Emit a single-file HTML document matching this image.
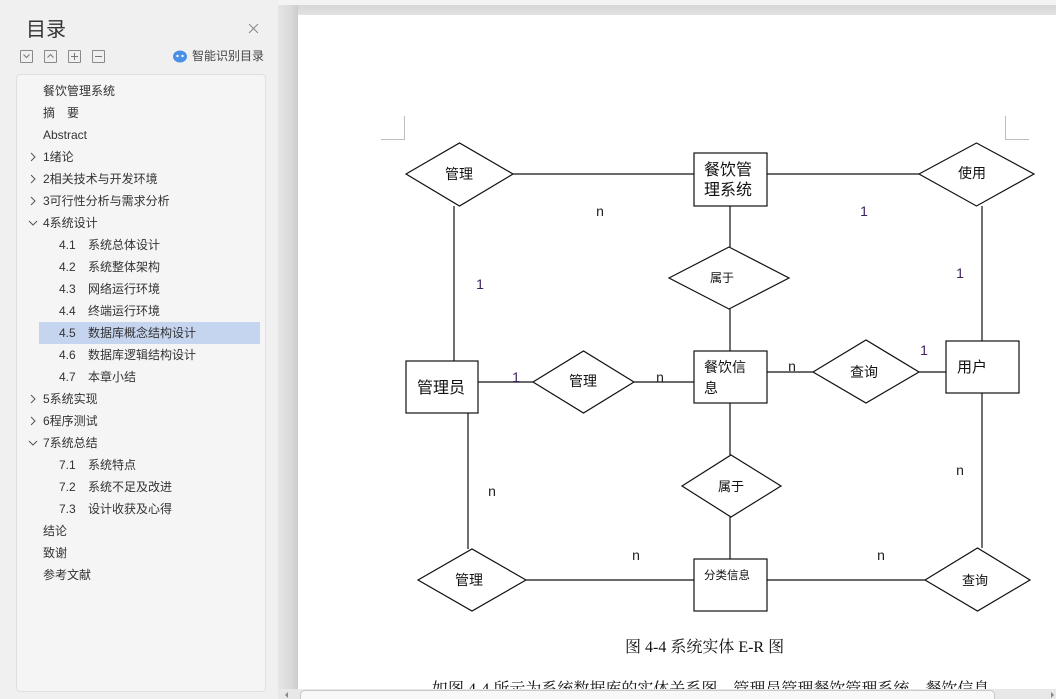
<!DOCTYPE html>
<html><head><meta charset="utf-8">
<style>
html,body{margin:0;padding:0;}
body{width:1056px;height:699px;position:relative;overflow:hidden;background:#efefef;font-family:"Liberation Sans","Noto Sans CJK SC",sans-serif;}
.abs{position:absolute;}
#side{left:0;top:0;width:278px;height:699px;background:#f0f0f0;}
#panel{left:16px;top:74px;width:250px;height:618px;background:#f5f5f5;border:1px solid #e0e0e0;border-radius:4px;box-sizing:border-box;}
.t{position:absolute;font-size:12px;color:#333;height:22px;line-height:22px;white-space:nowrap;}
.ib{position:absolute;top:50px;width:11px;height:11px;border:1px solid #8a8a8a;border-radius:1px;}
#hl{left:39px;top:322px;width:221px;height:22px;background:#c6d5ef;}
#gut{left:278px;top:5px;width:20px;height:694px;background:linear-gradient(to right,#e6e6e6,#d8d8d8 70%,#cccccc);}
#topband{left:278px;top:5px;width:778px;height:10px;background:linear-gradient(to bottom,#d6d6d6,#e2e2e2);}
#topstrip{left:278px;top:0;width:778px;height:5px;background:#f3f3f3;}
#page{left:298px;top:15px;width:758px;height:674px;background:#fff;}
#sb{left:278px;top:689px;width:778px;height:10px;background:#e8e8e8;}
#thumb{left:300px;top:690px;width:695px;height:9px;background:#f8f8f8;border:1px solid #c9c9c9;border-bottom:none;border-radius:5px 5px 0 0;box-sizing:border-box;}
</style></head><body>
<div id="side" class="abs"></div>
<div class="abs" style="left:26px;top:16px;font-size:20px;color:#333;line-height:28px;">目录</div>
<svg class="abs" style="left:247px;top:22px" width="14" height="14"><path d="M2 2 L11 11 M11 2 L2 11" stroke="#888" stroke-width="1"/></svg>
<div class="ib" style="left:20px"></div>
<div class="ib" style="left:44px"></div>
<div class="ib" style="left:68px"></div>
<div class="ib" style="left:92px"></div>
<svg class="abs" style="left:0;top:0" width="278" height="74">
<path d="M23.5 54.5 L26.5 57.5 L29.5 54.5" fill="none" stroke="#777"/>
<path d="M47.5 57.5 L50.5 54.5 L53.5 57.5" fill="none" stroke="#777"/>
<path d="M71 56.5 H78 M74.5 53 V60" stroke="#777"/>
<path d="M95 56.5 H102" stroke="#777"/>
<ellipse cx="180" cy="56.5" rx="7" ry="6" fill="#4a90e8"/>
<circle cx="177.5" cy="56" r="1.2" fill="#fff"/><circle cx="182.5" cy="56" r="1.2" fill="#fff"/>
</svg>
<div class="abs" style="left:192px;top:47px;font-size:12px;color:#444;line-height:18px;">智能识别目录</div>
<div id="panel" class="abs"></div>
<div id="hl" class="abs"></div>
<svg class="abs" style="left:0;top:0" width="278" height="699">
<g fill="none" stroke="#555" stroke-width="1">
<path d="M31 153 L35 157 L31 161"/>
<path d="M31 175 L35 179 L31 183"/>
<path d="M31 197 L35 201 L31 205"/>
<path d="M29 221 L33 225 L37 221"/>
<path d="M31 395 L35 399 L31 403"/>
<path d="M31 417 L35 421 L31 425"/>
<path d="M29 441 L33 445 L37 441"/>
</g>
</svg>
<div class="t" style="left:43px;top:80px">餐饮管理系统</div>
<div class="t" style="left:43px;top:102px">摘</div><div class="t" style="left:67px;top:102px">要</div>
<div class="t" style="left:43px;top:124px">Abstract</div>
<div class="t" style="left:43px;top:146px">1绪论</div>
<div class="t" style="left:43px;top:168px">2相关技术与开发环境</div>
<div class="t" style="left:43px;top:190px">3可行性分析与需求分析</div>
<div class="t" style="left:43px;top:212px">4系统设计</div>
<div class="t" style="left:59px;top:234px">4.1</div><div class="t" style="left:88px;top:234px">系统总体设计</div>
<div class="t" style="left:59px;top:256px">4.2</div><div class="t" style="left:88px;top:256px">系统整体架构</div>
<div class="t" style="left:59px;top:278px">4.3</div><div class="t" style="left:88px;top:278px">网络运行环境</div>
<div class="t" style="left:59px;top:300px">4.4</div><div class="t" style="left:88px;top:300px">终端运行环境</div>
<div class="t" style="left:59px;top:322px">4.5</div><div class="t" style="left:88px;top:322px">数据库概念结构设计</div>
<div class="t" style="left:59px;top:344px">4.6</div><div class="t" style="left:88px;top:344px">数据库逻辑结构设计</div>
<div class="t" style="left:59px;top:366px">4.7</div><div class="t" style="left:88px;top:366px">本章小结</div>
<div class="t" style="left:43px;top:388px">5系统实现</div>
<div class="t" style="left:43px;top:410px">6程序测试</div>
<div class="t" style="left:43px;top:432px">7系统总结</div>
<div class="t" style="left:59px;top:454px">7.1</div><div class="t" style="left:88px;top:454px">系统特点</div>
<div class="t" style="left:59px;top:476px">7.2</div><div class="t" style="left:88px;top:476px">系统不足及改进</div>
<div class="t" style="left:59px;top:498px">7.3</div><div class="t" style="left:88px;top:498px">设计收获及心得</div>
<div class="t" style="left:43px;top:520px">结论</div>
<div class="t" style="left:43px;top:542px">致谢</div>
<div class="t" style="left:43px;top:564px">参考文献</div>

<div id="topstrip" class="abs"></div>
<div id="topband" class="abs"></div>
<div id="gut" class="abs"></div>
<div id="page" class="abs"></div>

<svg class="abs" style="left:0;top:0" width="1056" height="699" font-family="'Liberation Sans','Noto Sans CJK SC',sans-serif">
<g stroke="#bdbdbd" stroke-width="1" fill="none">
<path d="M404.5 116 V139.5 H381"/>
<path d="M1005.5 116 V139.5 H1029"/>
</g>
<g stroke="#111" stroke-width="1.2" fill="none">
<polygon points="406,174 459.5,143 513,174 459.5,206"/>
<line x1="513" y1="174" x2="694" y2="174"/>
<rect x="694" y="153" width="73" height="53"/>
<line x1="767" y1="174" x2="919" y2="174"/>
<polygon points="919,174 976.5,143 1034,174 976.5,206"/>
<line x1="454" y1="206" x2="454" y2="361"/>
<line x1="982" y1="206" x2="982" y2="341"/>
<line x1="730" y1="206" x2="730" y2="247"/>
<polygon points="669,278 729,247 789,278 729,309"/>
<line x1="730" y1="309" x2="730" y2="351"/>
<rect x="406" y="361" width="72" height="52"/>
<line x1="478" y1="382" x2="533" y2="382"/>
<polygon points="533,382 583.5,351 634,382 583.5,413"/>
<line x1="634" y1="382" x2="694" y2="382"/>
<rect x="694" y="351" width="73" height="52"/>
<line x1="767" y1="372" x2="813" y2="372"/>
<polygon points="813,372 866,340 919,372 866,403"/>
<line x1="919" y1="372" x2="946" y2="372"/>
<rect x="946" y="341" width="73" height="52"/>
<line x1="468" y1="413" x2="468" y2="549"/>
<line x1="982" y1="393" x2="982" y2="548"/>
<line x1="730" y1="403" x2="730" y2="455"/>
<polygon points="682,486 731,455 781,486 731,517"/>
<line x1="730" y1="517" x2="730" y2="559"/>
<polygon points="418,580 472,549 526,580 472,611"/>
<line x1="526" y1="580" x2="694" y2="580"/>
<rect x="694" y="559" width="73" height="52"/>
<line x1="767" y1="580" x2="925" y2="580"/>
<polygon points="925,580 977.5,548 1030,580 977.5,611"/>
</g>
<g fill="#111">
<text x="459" y="179" font-size="14" text-anchor="middle">管理</text>
<text x="704" y="175" font-size="16">餐饮管</text>
<text x="704" y="195" font-size="16">理系统</text>
<text x="972" y="178" font-size="14" text-anchor="middle">使用</text>
<text x="722" y="282" font-size="12" text-anchor="middle">属于</text>
<text x="417" y="393" font-size="16">管理员</text>
<text x="583" y="386" font-size="14" text-anchor="middle">管理</text>
<text x="704" y="372" font-size="14">餐饮信</text>
<text x="704" y="393" font-size="14">息</text>
<text x="864" y="377" font-size="14" text-anchor="middle">查询</text>
<text x="957" y="372" font-size="15">用户</text>
<text x="731" y="491" font-size="13" text-anchor="middle">属于</text>
<text x="469" y="585" font-size="14" text-anchor="middle">管理</text>
<text x="704" y="579" font-size="11.5">分类信息</text>
<text x="975" y="585" font-size="13" text-anchor="middle">查询</text>
</g>
<g fill="#222" font-size="14" text-anchor="middle">
<text x="600" y="216">n</text>
<text x="660" y="382">n</text>
<text x="792" y="371">n</text>
<text x="492" y="496">n</text>
<text x="636" y="560">n</text>
<text x="881" y="560">n</text>
<text x="960" y="475">n</text>
</g>
<g fill="#3e2060" font-size="14" text-anchor="middle">
<text x="480" y="289">1</text>
<text x="516" y="382">1</text>
<text x="864" y="216">1</text>
<text x="960" y="278">1</text>
<text x="924" y="355">1</text>
</g>
<text x="625" y="652" font-size="16" fill="#111" font-family="'Liberation Serif','Noto Serif CJK SC',serif">图 4-4 系统实体 E-R 图</text>
<text x="432" y="694" font-size="16" fill="#111" font-family="'Liberation Serif','Noto Serif CJK SC',serif">如图 4-4 所示为系统数据库的实体关系图。管理员管理餐饮管理系统、餐饮信息、</text>
</svg>

<div id="sb" class="abs"></div>
<div id="thumb" class="abs"></div>
<svg class="abs" style="left:283px;top:691px" width="8" height="8"><path d="M5 1 L2 4 L5 7 Z" fill="#888"/></svg>
<svg class="abs" style="left:1048px;top:691px" width="8" height="8"><path d="M3 1 L6 4 L3 7 Z" fill="#888"/></svg>
</body></html>
